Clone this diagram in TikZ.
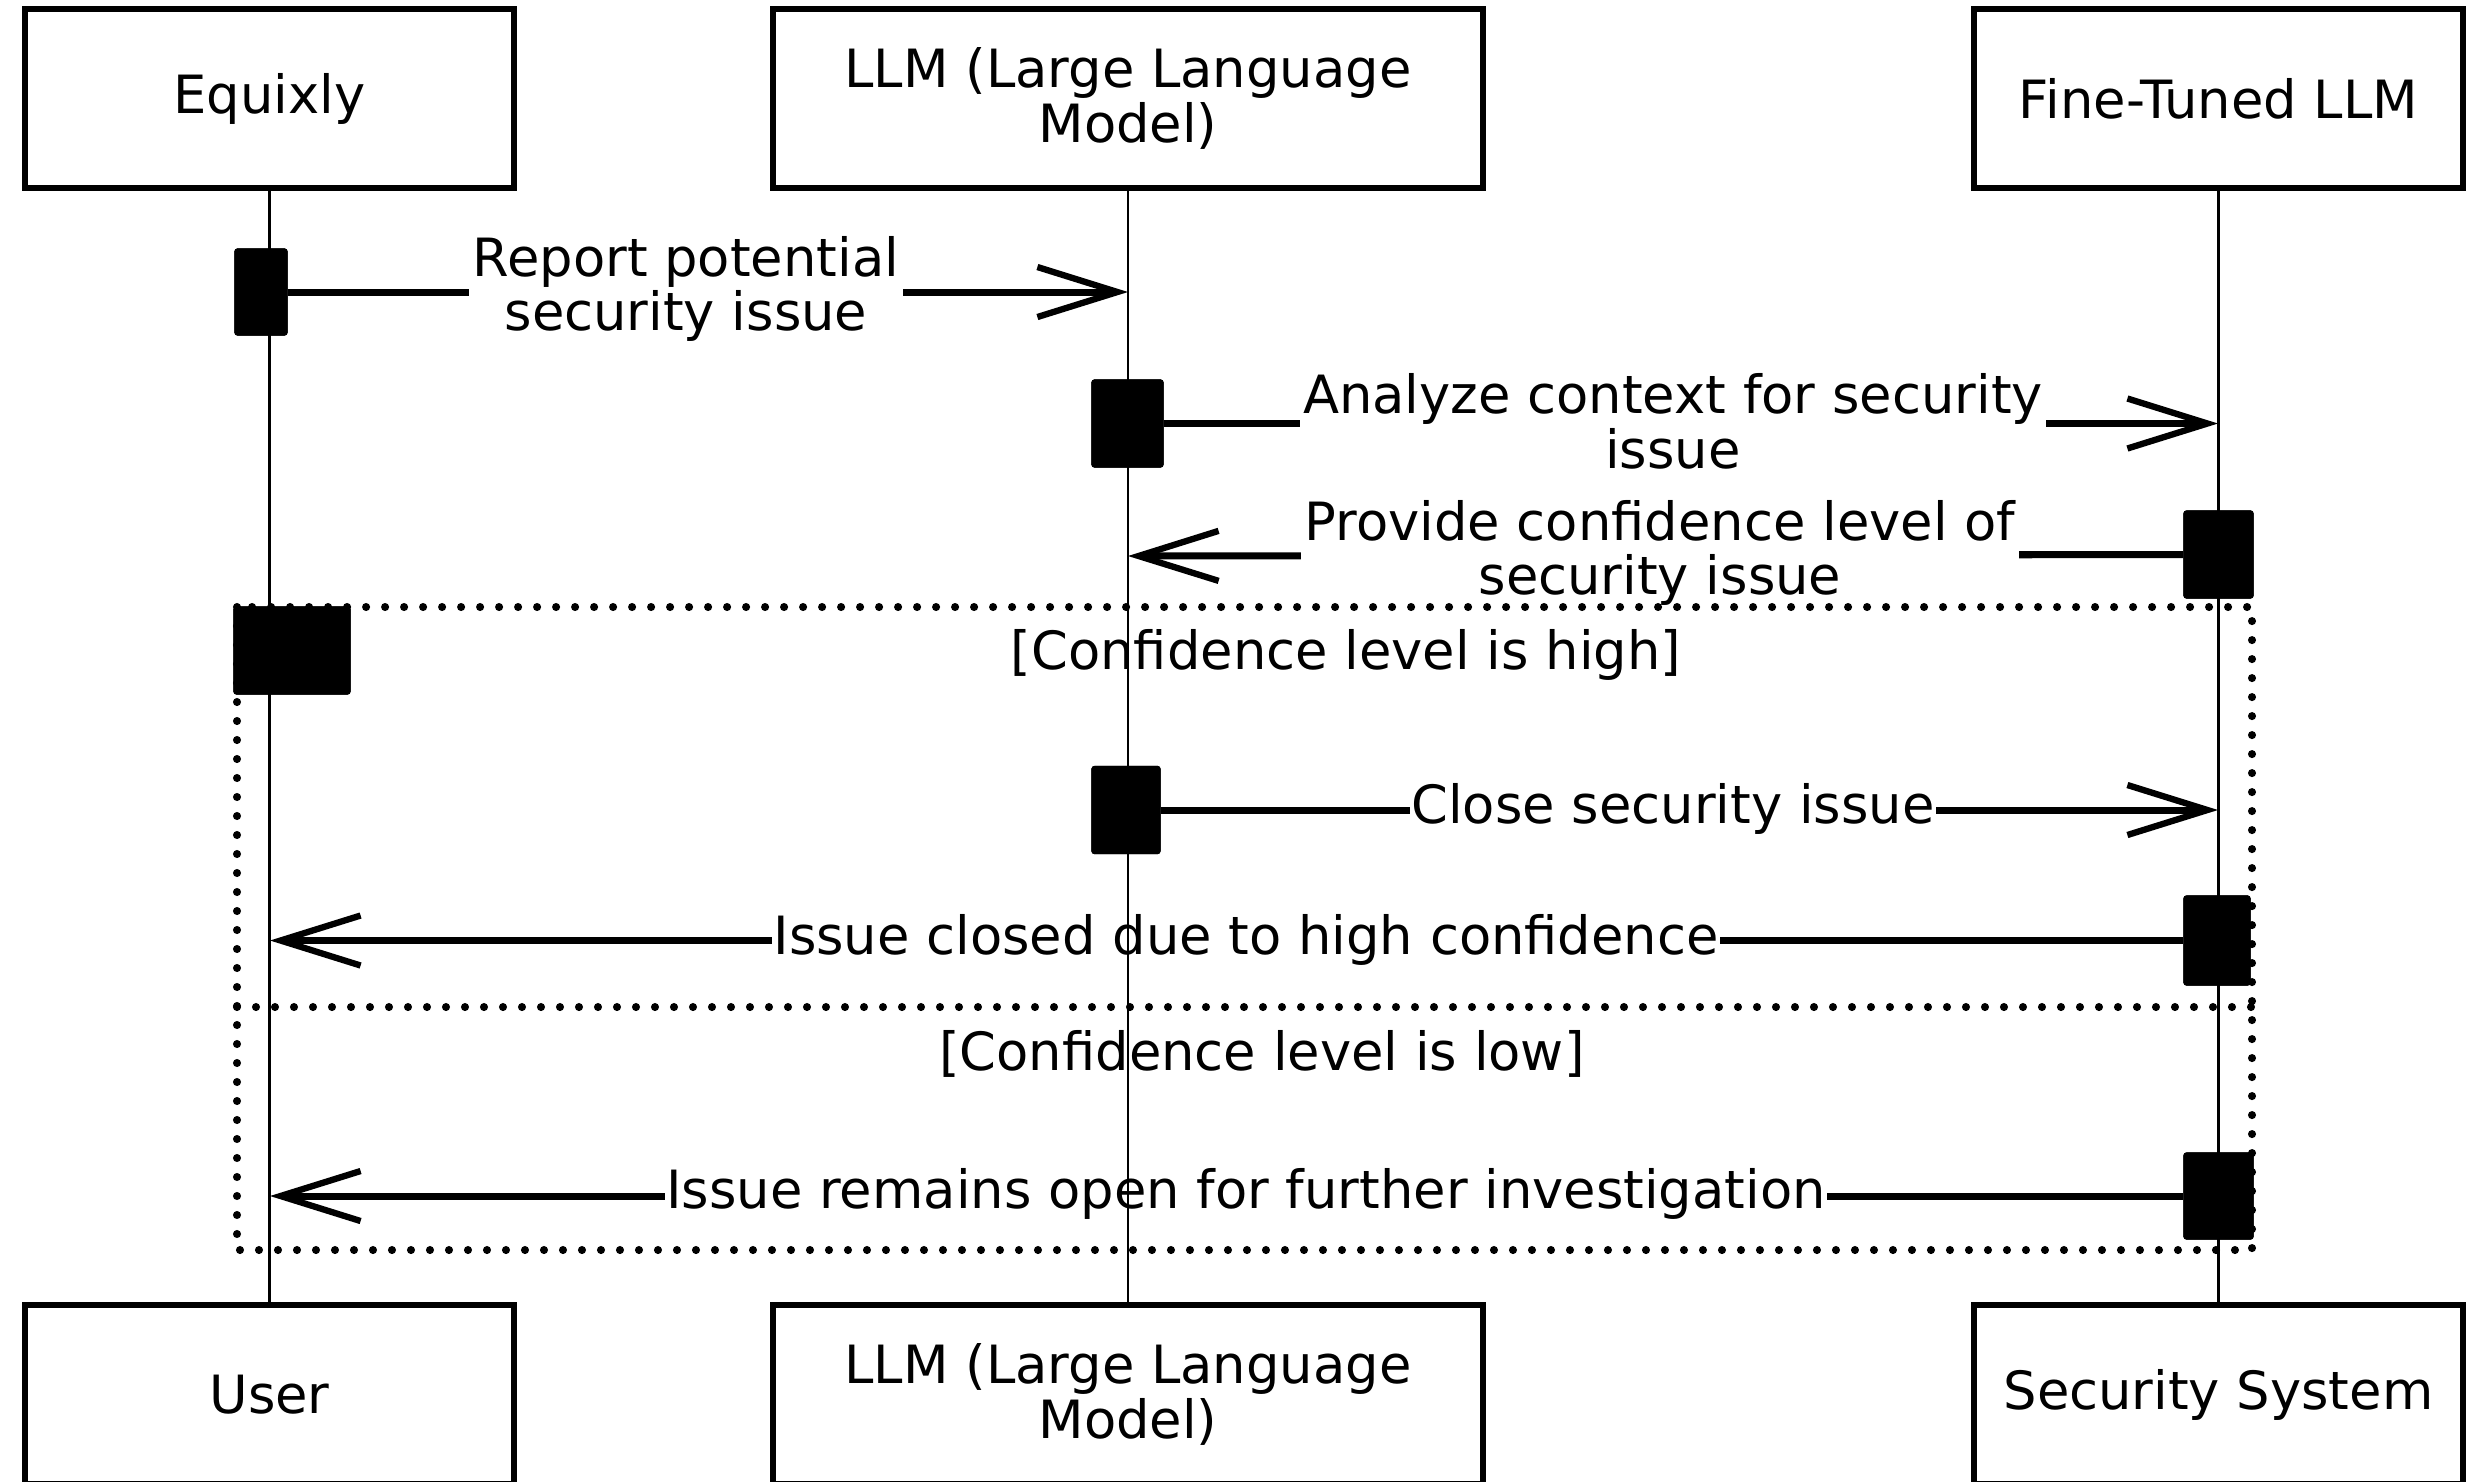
\documentclass[tikz,border=0pt]{standalone}
\usepackage{fontspec}
\setmainfont{DejaVu Sans}
\usetikzlibrary{arrows.meta}
\begin{document}
\begin{tikzpicture}[x=0.1mm,y=-0.1mm,
  actor/.style={draw, line width=1.8pt, minimum width=48.9mm, minimum height=17.9mm, align=center, font=\fontsize{15}{15.6}\selectfont, inner sep=0pt},
  wideactor/.style={actor, minimum width=71mm},
  act/.style={fill=black, draw=black, rounded corners=0.8pt, inner sep=0pt},
  msg/.style={line width=2pt, -{Straight Barb[length=8mm,width=5mm,line width=1.8pt]}},
  lbl/.style={fill=white, align=center, font=\fontsize{15}{15.6}\selectfont, inner sep=1pt},
  guard/.style={font=\fontsize{15}{15.6}\selectfont, inner sep=0pt},
  life/.style={line width=0.7pt},
  frm/.style={line width=2.3pt, dash pattern=on 0pt off 1.9mm, line cap=round}
]
\useasboundingbox (0,0) rectangle (2474,1481);
\clip (0,0) rectangle (2474,1481);

% actors
\node[actor] (eq) at (269.5,98.5) {Equixly};
\node[wideactor] (llm) at (1128,98.5) {LLM (Large Language\\Model)};
\node[actor] (ft) at (2218.5,98.5) {Fine-Tuned LLM};
\node[actor] (user) at (269.5,1394.5) {User};
\node[wideactor] (llm2) at (1128,1394.5) {LLM (Large Language\\Model)};
\node[actor] (sec) at (2218.5,1394.5) {Security System};

% activation boxes
\node[act, minimum width=5.2mm, minimum height=8.6mm] (a1) at (261,292) {};
\node[act, minimum width=7.1mm, minimum height=8.7mm] (a2) at (1127.5,423.5) {};
\node[act, minimum width=6.9mm, minimum height=8.7mm] (a3) at (2218.5,554.5) {};
\node[act, minimum width=11.6mm, minimum height=8.7mm] (a4) at (292,650.5) {};
\node[act, minimum width=6.8mm, minimum height=8.7mm] (a5) at (1126,810) {};
\node[act, minimum width=6.6mm, minimum height=8.9mm] (a6) at (2217,940.5) {};
\node[act, minimum width=6.9mm, minimum height=8.6mm] (a7) at (2218.5,1196) {};

% message end points on lifelines
\coordinate (m1) at (1128,292);
\coordinate (m2) at (2218,423.5);
\coordinate (m3) at (1128,556);
\coordinate (m5) at (2218,810);
\coordinate (m6) at (270,940.5);
\coordinate (m8) at (270,1196);

% messages
\draw[msg] (a1.east) -- (m1);
\draw[msg] (a2.east) -- (m2);
\draw[msg] (a3.west) -- (m3);
\draw[msg] (a5.east) -- (m5);
\draw[msg] (a6.west) -- (m6);
\draw[msg] (a7.west) -- (m8);

% labels
\node[lbl] (l1) at (686,289) {Report potential\\security issue};
\node[lbl] (l2) at (1673,421) {Analyze context for security\\issue};
\node[lbl] (l3) at (1660,553) {Provide confidence level of\\security issue};
\node[guard] (g1) at (1346,655) {[Confidence level is high]};
\node[lbl, inner sep=0.5pt] (l5) at (1673,809) {Close security issue};
\node[lbl, inner sep=0.5pt] (l6) at (1246,940) {Issue closed due to high confidence};
\node[guard] (g2) at (1262,1054) {[Confidence level is low]};
\node[lbl, inner sep=0.5pt] (l8) at (1246,1194) {Issue remains open for further investigation};

% frame (alt)
\coordinate (f1) at (237,607);
\coordinate (f2) at (2252,1250);
\coordinate (d1) at (237,1007);
\coordinate (d2) at (2252,1007);
\draw[frm] (f1) rectangle (f2);
\draw[frm] (d1) -- (d2);

% lifelines (on top of labels, below activations)
\draw[life] (eq.south) -- (user.north);
\draw[life] (llm.south) -- (llm2.north);
\draw[life] (ft.south) -- (sec.north);

% redraw activations on top
\node[act, minimum width=5.2mm, minimum height=8.6mm] at (a1) {};
\node[act, minimum width=7.1mm, minimum height=8.7mm] at (a2) {};
\node[act, minimum width=6.9mm, minimum height=8.7mm] at (a3) {};
\node[act, minimum width=11.6mm, minimum height=8.7mm] at (a4) {};
\node[act, minimum width=6.8mm, minimum height=8.7mm] at (a5) {};
\node[act, minimum width=6.6mm, minimum height=8.9mm] at (a6) {};
\node[act, minimum width=6.9mm, minimum height=8.6mm] at (a7) {};
\end{tikzpicture}
\end{document}
